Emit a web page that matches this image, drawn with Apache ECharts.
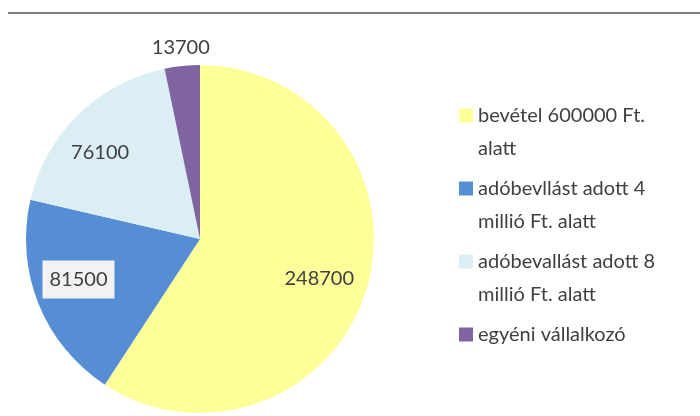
<!DOCTYPE html>
<html>
<head>
<meta charset="utf-8">
<script src="https://cdn.jsdelivr.net/npm/echarts@6/dist/echarts.min.js"></script>
<style>
html,body{margin:0;padding:0;background:#fff;}
#chart{width:700px;height:416px;}
</style>
</head>
<body>
<div id="chart"></div>
<script>
const categories = [
  "bevétel 600000 Ft. alatt",
  "adóbevllást adott 4 millió Ft. alatt",
  "adóbevallást adott 8 millió Ft. alatt",
  "egyéni vállalkozó"
];
const legendLabels = [
  ["bevétel 600000 Ft.", "alatt"],
  ["adóbevllást adott 4", "millió Ft. alatt"],
  ["adóbevallást adott 8", "millió Ft. alatt"],
  ["egyéni vállalkozó", " "]
];
const values = [248700, 81500, 76100, 13700];
const colors = ["#FFFF99", "#558ED5", "#DBEEF4", "#8064A2"];
const labelOffsets = [[33, 14], [-38, 7], [-37, -22], [-10, -102]];

const FONT = "Lato";
const chart = echarts.init(document.getElementById('chart'), null, {renderer: 'canvas'});
const data = categories.map((c, i) => {
  const item = {
    name: c,
    value: values[i],
    itemStyle: {color: colors[i]},
    label: {offset: labelOffsets[i]}
  };
  if (i === 1) {
    item.label.backgroundColor = '#F2F2F2';
    item.label.padding = [9, 7];
  }
  return item;
});

chart.setOption({
  animation: false,
  backgroundColor: '#ffffff',
  graphic: [{
    type: 'line',
    shape: {x1: 8, y1: 13, x2: 700, y2: 13},
    style: {stroke: '#808080', lineWidth: 2}
  }],
  legend: {
    orient: 'vertical',
    left: 459,
    top: 66,
    padding: 0,
    itemWidth: 14,
    itemHeight: 14,
    itemGap: -26,
    icon: 'rect',
    selectedMode: false,
    data: categories,
    formatter: function (name) {
      // blank first line keeps the marker beside the first text line
      return ' \n' + legendLabels[categories.indexOf(name)].join('\n');
    },
    textStyle: {
      fontFamily: FONT,
      fontSize: 20,
      lineHeight: 33,
      color: '#404040'
    }
  },
  series: [{
    type: 'pie',
    center: [200, 239],
    radius: 174,
    startAngle: 90,
    clockwise: true,
    avoidLabelOverlap: false,
    label: {
      show: true,
      position: 'inside',
      formatter: '{c}',
      fontFamily: FONT,
      fontSize: 20,
      lineHeight: 20,
      color: '#404040'
    },
    labelLine: {show: false},
    emphasis: {disabled: true},
    itemStyle: {borderWidth: 0},
    data: data
  }]
});
</script>
</body>
</html>
